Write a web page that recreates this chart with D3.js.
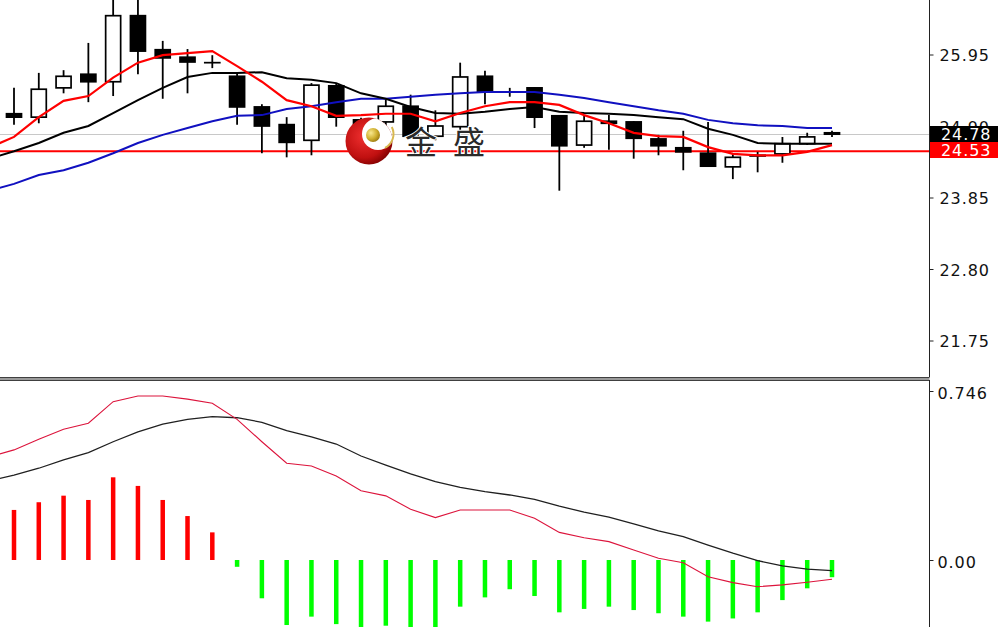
<!DOCTYPE html>
<html><head><meta charset="utf-8">
<script src="https://cdn.jsdelivr.net/npm/d3@7"></script>
<style>html,body{margin:0;padding:0;background:#fff;overflow:hidden}</style>
</head><body><svg id="c" width="998" height="627"></svg>
<script>
// ---- data ----
const opens  = [25.08,25.03,25.46,25.66,25.55,26.52,26.02,25.91,25.83,25.63,25.18,24.92,24.69,25.49,24.99,24.96,25.19,24.75,24.89,25.63,25.40,25.46,25.05,24.62,24.97,24.96,24.71,24.58,24.50,24.30,24.47,24.49,24.64,24.80];
const highs  = [25.46,25.68,25.72,26.12,26.85,26.85,26.15,26.03,25.94,25.69,25.22,25.03,25.53,25.53,25.02,25.31,25.36,25.13,25.83,25.71,25.46,25.47,25.05,25.05,25.06,24.97,24.77,24.83,24.96,24.49,24.52,24.74,24.80,24.83];
const lows   = [24.92,24.94,25.38,25.25,25.34,25.66,25.30,25.38,25.75,24.92,24.50,24.44,24.47,24.89,24.69,24.87,24.74,24.69,24.84,25.22,25.33,24.87,23.95,24.58,24.55,24.42,24.47,24.25,24.30,24.12,24.22,24.36,24.62,24.74];
const closes = [25.03,25.44,25.63,25.55,26.52,26.00,25.90,25.84,25.83,25.18,24.90,24.66,25.50,25.03,24.81,25.19,24.75,24.90,25.62,25.41,25.40,25.03,24.61,24.97,24.94,24.72,24.61,24.52,24.31,24.44,24.46,24.64,24.74,24.78];
// moving averages: first value belongs to the bar just before the visible window
const maRed   = [24.58,24.74,25.03,25.27,25.34,25.61,25.83,25.94,25.97,26.00,25.78,25.55,25.28,25.19,25.05,25.06,25.08,25.08,24.97,25.09,25.19,25.25,25.25,25.21,25.06,24.94,24.80,24.75,24.74,24.59,24.49,24.47,24.47,24.52,24.62];
const maBlack = [24.42,24.53,24.65,24.80,24.90,25.09,25.28,25.46,25.62,25.68,25.68,25.69,25.60,25.58,25.53,25.38,25.30,25.18,25.09,25.08,25.11,25.15,25.18,25.11,25.09,25.08,25.06,25.03,25.00,24.86,24.77,24.65,24.64,24.64,24.64];
const maBlue  = [23.95,24.05,24.18,24.25,24.36,24.50,24.65,24.77,24.87,24.97,25.05,25.06,25.15,25.19,25.25,25.30,25.30,25.33,25.36,25.38,25.40,25.40,25.40,25.36,25.31,25.25,25.19,25.13,25.08,24.99,24.94,24.91,24.90,24.87,24.87];
// MACD panel
const macdHist = [0.221,0.255,0.284,0.265,0.365,0.327,0.265,0.194,0.122,-0.030,-0.169,-0.287,-0.250,-0.283,-0.300,-0.290,-0.300,-0.305,-0.206,-0.165,-0.129,-0.159,-0.231,-0.216,-0.206,-0.221,-0.235,-0.250,-0.272,-0.258,-0.231,-0.177,-0.125,-0.076];
const macdDif  = [0.455,0.486,0.533,0.577,0.604,0.699,0.724,0.724,0.710,0.692,0.621,0.522,0.427,0.415,0.371,0.306,0.283,0.224,0.187,0.221,0.221,0.221,0.184,0.122,0.098,0.081,0.044,0.008,-0.012,-0.074,-0.100,-0.118,-0.110,-0.098,-0.085];
const macdDea  = [0.349,0.375,0.405,0.442,0.474,0.522,0.566,0.600,0.621,0.633,0.628,0.608,0.571,0.544,0.512,0.459,0.419,0.380,0.346,0.321,0.302,0.287,0.268,0.238,0.211,0.189,0.159,0.129,0.103,0.066,0.030,-0.003,-0.026,-0.040,-0.047];
const priceTicks = [25.95, 24.90, 23.85, 22.80, 21.75];
const macdTicks = [0.746, 0.00];
const lastPrice = 24.78;
const levelPrice = 24.53;
const watermark = "金盛";

// ---- drawing ----
const svg = d3.select("#c");
const W = 998, H = 627, axisX = 929.5;
const top0 = 0, top1 = 377, bot0 = 381, bot1 = 627;

const x = d3.scaleLinear().domain([0, 33]).range([14, 832]);
const y = d3.scaleLinear().domain([21.75, 25.95]).range([340.5, 54.5]);
const ym = d3.scaleLinear().domain([0, 0.746]).range([560, 391]);

const defs = svg.append("defs");
defs.append("clipPath").attr("id","cpTop").append("rect").attr("x",0).attr("y",top0).attr("width",axisX).attr("height",top1-top0);
defs.append("clipPath").attr("id","cpBot").append("rect").attr("x",0).attr("y",bot0).attr("width",axisX).attr("height",bot1-bot0);
const rg = defs.append("radialGradient").attr("id","gRed").attr("cx","40%").attr("cy","40%").attr("r","65%");
rg.append("stop").attr("offset","0%").attr("stop-color","#f03030");
rg.append("stop").attr("offset","70%").attr("stop-color","#c01010");
rg.append("stop").attr("offset","100%").attr("stop-color","#800000");
const gg = defs.append("radialGradient").attr("id","gGold").attr("cx","35%").attr("cy","35%").attr("r","70%");
gg.append("stop").attr("offset","0%").attr("stop-color","#f8e890");
gg.append("stop").attr("offset","60%").attr("stop-color","#d0b030");
gg.append("stop").attr("offset","100%").attr("stop-color","#9a7a10");
defs.append("clipPath").attr("id","cpLogo").append("circle").attr("cx",369).attr("cy",141).attr("r",23.5);

svg.append("rect").attr("width",W).attr("height",H).attr("fill","#fff");

// ---- top panel ----
const gt = svg.append("g").attr("clip-path","url(#cpTop)");
gt.append("line").attr("x1",0).attr("x2",axisX).attr("y1",Math.round(y(lastPrice))+0.5).attr("y2",Math.round(y(lastPrice))+0.5)
  .attr("stroke","#c8c8c8").attr("stroke-width",1);
gt.append("line").attr("x1",0).attr("x2",axisX).attr("y1",y(levelPrice)).attr("y2",y(levelPrice))
  .attr("stroke","#ff0000").attr("stroke-width",2);

const idx = d3.range(opens.length);
const cg = gt.append("g");
cg.selectAll("line.w").data(idx).join("line").attr("class","w")
  .attr("x1",i=>x(i)).attr("x2",i=>x(i)).attr("y1",i=>y(highs[i])).attr("y2",i=>y(lows[i]))
  .attr("stroke","#000").attr("stroke-width",1.8);
cg.selectAll("rect.b").data(idx).join("rect").attr("class","b")
  .attr("x",i=>x(i)-7.5).attr("width",15)
  .attr("y",i=>Math.min(y(opens[i]),y(closes[i])))
  .attr("height",i=>Math.max(0.01,Math.abs(y(opens[i])-y(closes[i]))))
  .attr("fill",i=>closes[i]>=opens[i]?"#fff":"#000")
  .attr("stroke","#000").attr("stroke-width",1.7);

const lineP = d3.line().x((d,i)=>x(i-1)).y(d=>y(d));
gt.append("path").attr("d",lineP(maBlue)).attr("fill","none").attr("stroke","#1010c0").attr("stroke-width",2);
gt.append("path").attr("d",lineP(maBlack)).attr("fill","none").attr("stroke","#000").attr("stroke-width",2);
gt.append("path").attr("d",lineP(maRed)).attr("fill","none").attr("stroke","#ff0000").attr("stroke-width",2.2);

// watermark logo + text
const lg = svg.append("g");
lg.append("circle").attr("cx",369).attr("cy",141).attr("r",23.5).attr("fill","url(#gRed)");
lg.append("circle").attr("cx",378).attr("cy",134).attr("r",16).attr("fill","#fff").attr("clip-path","url(#cpLogo)");
lg.append("path").attr("d",d3.arc().innerRadius(14.5).outerRadius(16.5).startAngle(Math.PI*0.35).endAngle(Math.PI*0.85)())
  .attr("transform","translate(378,134)").attr("fill","#d8b850").attr("clip-path",null);
lg.append("circle").attr("cx",373).attr("cy",135).attr("r",7).attr("fill","url(#gGold)");
svg.append("text").attr("x",405).attr("y",140).attr("dominant-baseline","central")
  .attr("font-family","'Noto Sans CJK SC', sans-serif").attr("font-size",32).attr("letter-spacing","16px")
  .attr("fill","#2a2a2a").attr("stroke","#fff").attr("stroke-width",2).attr("paint-order","stroke")
  .text(watermark);

// ---- bottom panel ----
const gb = svg.append("g").attr("clip-path","url(#cpBot)");
gb.selectAll("rect.h").data(macdHist).join("rect").attr("class","h")
  .attr("x",(d,i)=>x(i)-2.25).attr("width",4.5)
  .attr("y",d=>Math.min(ym(0),ym(d))).attr("height",d=>Math.abs(ym(d)-ym(0)))
  .attr("fill",d=>d>=0?"#ff0000":"#00ff00");
const lineM = d3.line().x((d,i)=>x(i-1)).y(d=>ym(d));
gb.append("path").attr("d",lineM(macdDea)).attr("fill","none").attr("stroke","#202020").attr("stroke-width",1.3);
gb.append("path").attr("d",lineM(macdDif)).attr("fill","none").attr("stroke","#dc143c").attr("stroke-width",1.1);

// ---- separators / axes ----
svg.append("rect").attr("x",0).attr("y",377).attr("width",axisX).attr("height",4).attr("fill","#9a9a9a");
svg.append("line").attr("x1",0).attr("x2",axisX).attr("y1",377.5).attr("y2",377.5).attr("stroke","#404040");
svg.append("line").attr("x1",0).attr("x2",axisX).attr("y1",380.5).attr("y2",380.5).attr("stroke","#404040");

const axT = d3.axisRight(y).tickValues(priceTicks).tickSize(4).tickFormat(d3.format(".2f"));
const gA = svg.append("g").attr("transform",`translate(${axisX},0)`).call(axT);
gA.select(".domain").remove();
gA.selectAll(".tick line").attr("stroke","#222");
gA.selectAll(".tick text").attr("x",10).attr("dy","0.4em").attr("font-family","'DejaVu Sans', sans-serif")
  .attr("font-size",16).attr("letter-spacing","0.9px").attr("fill","#111").attr("text-anchor","start");

const axB = d3.axisRight(ym).tickValues(macdTicks).tickSize(4).tickFormat(d=>d===0?"0.00":d3.format(".3f")(d));
const gB = svg.append("g").attr("transform",`translate(${axisX},0)`).call(axB);
gB.select(".domain").remove();
gB.selectAll(".tick line").attr("stroke","#222");
gB.selectAll(".tick text").attr("x",8).attr("dy","0.45em").attr("font-family","'DejaVu Sans', sans-serif")
  .attr("font-size",16).attr("letter-spacing","0.9px").attr("fill","#111").attr("text-anchor","start");

svg.append("line").attr("x1",axisX).attr("x2",axisX).attr("y1",0).attr("y2",377).attr("stroke","#222");
svg.append("line").attr("x1",axisX).attr("x2",axisX).attr("y1",380).attr("y2",H).attr("stroke","#222");

// price labels
const pl = [{v:lastPrice,bg:"#000",yc:134},{v:levelPrice,bg:"#ff0000",yc:150}];
pl.forEach(p=>{
  svg.append("rect").attr("x",930).attr("y",p.yc-8).attr("width",68).attr("height",16).attr("fill",p.bg);
  svg.append("text").attr("x",941).attr("y",p.yc).attr("dy","0.38em").attr("font-family","'DejaVu Sans', sans-serif")
    .attr("font-size",16).attr("letter-spacing","0.9px").attr("fill","#fff").text(d3.format(".2f")(p.v));
});
</script></body></html>
